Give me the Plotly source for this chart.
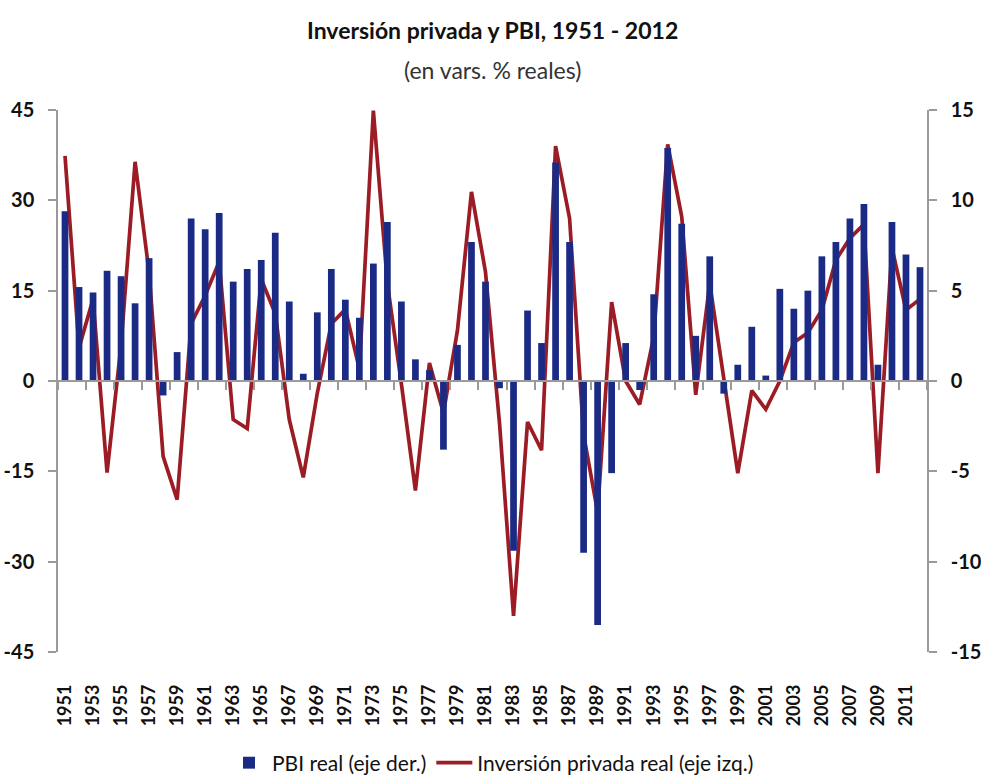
import plotly.graph_objects as go

years = list(range(1951, 2013))

pbi_real = [9.4, 5.2, 4.9, 6.1, 5.8, 4.3, 6.8, -0.8, 1.6, 9.0,
            8.4, 9.3, 5.5, 6.2, 6.7, 8.2, 4.4, 0.4, 3.8, 6.2,
            4.5, 3.5, 6.5, 8.8, 4.4, 1.2, 0.6, -3.8, 2.0, 7.7,
            5.5, -0.4, -9.4, 3.9, 2.1, 12.1, 7.7, -9.5, -13.5, -5.1,
            2.1, -0.5, 4.8, 12.9, 8.7, 2.5, 6.9, -0.7, 0.9, 3.0,
            0.3, 5.1, 4.0, 5.0, 6.9, 7.7, 9.0, 9.8, 0.9, 8.8,
            7.0, 6.3]

inversion_privada = [37.4, 5.5, 13.6, -15.2, 6.0, 36.4, 18.0, -12.5, -19.7, 9.5,
                     14.2, 19.8, -6.4, -7.9, 16.9, 11.2, -6.4, -16.0, -2.0, 9.5,
                     11.9, 2.0, 44.9, 16.2, -0.5, -18.2, 3.0, -5.3, 8.4, 31.4,
                     18.1, -7.0, -39.0, -6.8, -11.5, 39.0, 27.0, -8.9, -21.8, 13.1,
                     0.0, -3.9, 7.3, 39.3, 27.3, -2.3, 16.2, 0.0, -15.3, -1.6,
                     -4.7, 0.0, 6.4, 8.0, 11.8, 20.1, 23.7, 26.0, -15.3, 22.1,
                     11.8, 13.6]

x_tick_years = [y for y in years if y % 2 == 1]
x_tick_labels = [str(y) for y in x_tick_years]
left_ticks = [-45, -30, -15, 0, 15, 30, 45]
left_tick_labels = ["-45", "-30", "-15", "0", "15", "30", "45"]
right_ticks = [-15, -10, -5, 0, 5, 10, 15]
right_tick_labels = ["-15", "-10", "-5", "0", "5", "10", "15"]

title_text = "Inversión privada y PBI, 1951 - 2012"
subtitle_text = "(en vars. % reales)"
bar_name = "PBI real (eje der.)"
line_name = "Inversión privada real (eje izq.)"

FONT = "Lato"
BAR_COLOR = "#1B2A84"
LINE_COLOR = "#9B1C24"
AXIS_COLOR = "#9A9A9A"

fig = go.Figure()
fig.add_trace(go.Bar(x=years, y=pbi_real, name=bar_name, yaxis="y2",
                     marker=dict(color=BAR_COLOR, line=dict(width=0)),
                     width=0.48))
fig.add_trace(go.Scatter(x=years, y=inversion_privada, name=line_name,
                         mode="lines", yaxis="y",
                         line=dict(color=LINE_COLOR, width=3.7)))
# invisible helper so the zero-line axis is drawn
fig.add_trace(go.Scatter(x=[years[0]], y=[0], xaxis="x2", yaxis="y",
                         mode="markers", marker=dict(opacity=0),
                         showlegend=False, hoverinfo="skip"))

tick_font = dict(family=FONT, size=20, color="#111111", weight="bold")

fig.update_layout(
    width=981, height=776,
    margin=dict(l=58, r=54, t=110, b=124, autoexpand=False),
    paper_bgcolor="white", plot_bgcolor="white",
    showlegend=True,
    legend=dict(orientation="h", x=0.5, xanchor="center",
                yref="paper", y=(652 - 763) / 542, yanchor="middle",
                font=dict(family=FONT, size=21, color="#111111"),
                itemwidth=36, traceorder="normal"),
    xaxis=dict(range=[1950.5, 2012.5], tickmode="array",
               tickvals=x_tick_years, ticktext=x_tick_labels,
               tickangle=-90, ticks="", showline=False, showgrid=False,
               zeroline=False, ticklabelstandoff=28, automargin=False,
               tickfont=dict(family=FONT, size=18, color="#111111", weight="bold")),
    xaxis2=dict(range=[1950.5, 2012.5], overlaying="x", anchor="free",
                position=0.5, showline=True, linecolor=AXIS_COLOR, linewidth=1.5,
                showticklabels=False, ticks="", showgrid=False, zeroline=False,
                automargin=False,
                minor=dict(ticks="outside", tick0=0.5, dtick=2, ticklen=8,
                           tickcolor=AXIS_COLOR, tickwidth=1.5, showgrid=False)),
    yaxis=dict(range=[-45, 45], tickmode="array", tickvals=left_ticks,
               ticktext=left_tick_labels,
               showline=True, linecolor=AXIS_COLOR, linewidth=1.5,
               ticks="outside", ticklen=8, tickcolor=AXIS_COLOR, tickwidth=1.5,
               showgrid=False, zeroline=False, ticklabelstandoff=10,
               automargin=False, tickfont=tick_font),
    yaxis2=dict(range=[-15, 15], tickmode="array", tickvals=right_ticks,
                ticktext=right_tick_labels,
                overlaying="y", side="right", anchor="x",
                showline=True, linecolor=AXIS_COLOR, linewidth=1.5,
                ticks="outside", ticklen=8, tickcolor=AXIS_COLOR, tickwidth=1.5,
                showgrid=False, zeroline=False, ticklabelstandoff=10,
                automargin=False, tickfont=tick_font),
    annotations=[
        dict(text=title_text, xref="paper", yref="paper", x=0.5, y=(652 - 30) / 542,
             xanchor="center", yanchor="middle", showarrow=False,
             font=dict(family=FONT, size=23, color="#111111", weight="bold")),
        dict(text=subtitle_text, xref="paper", yref="paper", x=0.5, y=(652 - 70) / 542,
             xanchor="center", yanchor="middle", showarrow=False,
             font=dict(family=FONT, size=23, color="#333333")),
    ],
)

# remove the default 8px page margin so the figure fills the window exactly
fig.write_html("out.html",
               config={"displayModeBar": False},
               post_script="document.body.style.margin='0';"
                           "document.body.style.overflow='hidden';")
